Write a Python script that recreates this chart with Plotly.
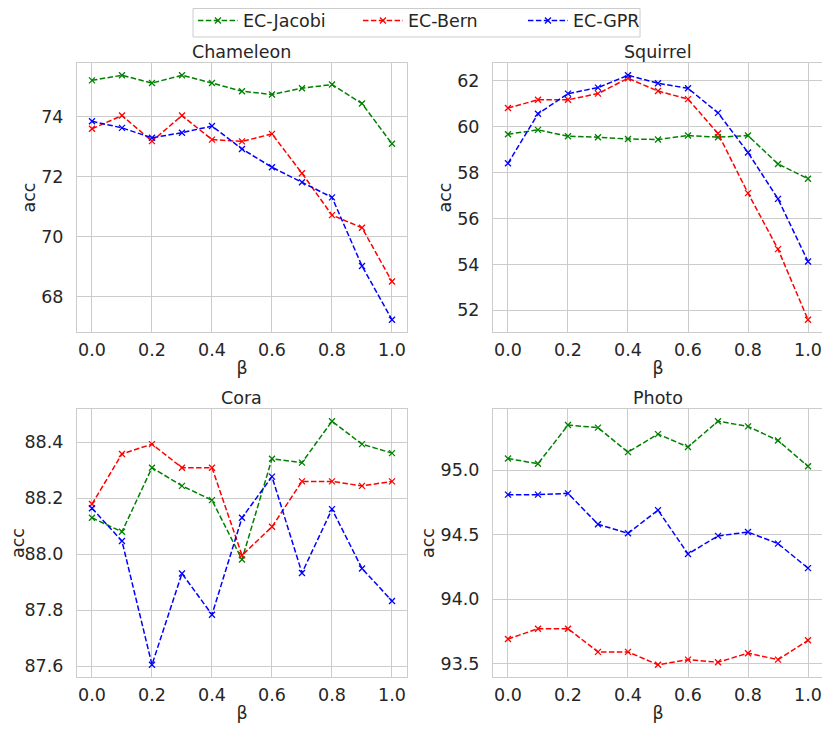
import plotly.graph_objects as go

# beta values on the x axis
beta = [0.0, 0.1, 0.2, 0.3, 0.4, 0.5, 0.6, 0.7, 0.8, 0.9, 1.0]

# accuracies per dataset
chameleon_jacobi = [75.20, 75.37, 75.11, 75.37, 75.11, 74.84, 74.73, 74.94, 75.06, 74.43, 73.09]
chameleon_bern = [73.59, 74.03, 73.18, 74.03, 73.23, 73.17, 73.42, 72.11, 70.72, 70.30, 68.51]
chameleon_gpr = [73.84, 73.62, 73.29, 73.46, 73.68, 72.92, 72.31, 71.81, 71.31, 69.03, 67.24]

squirrel_jacobi = [59.68, 59.87, 59.59, 59.55, 59.47, 59.45, 59.62, 59.55, 59.62, 58.38, 57.74]
squirrel_bern = [60.82, 61.18, 61.18, 61.45, 62.12, 61.56, 61.21, 59.71, 57.11, 54.67, 51.59]
squirrel_gpr = [58.41, 60.57, 61.45, 61.71, 62.25, 61.90, 61.68, 60.61, 58.88, 56.86, 54.13]

cora_jacobi = [88.130, 88.080, 88.309, 88.244, 88.193, 87.981, 88.341, 88.327, 88.475, 88.393, 88.361]
cora_bern = [88.179, 88.358, 88.393, 88.309, 88.309, 87.996, 88.098, 88.260, 88.260, 88.244, 88.260]
cora_gpr = [88.164, 88.047, 87.605, 87.931, 87.784, 88.130, 88.277, 87.933, 88.161, 87.949, 87.833]

photo_jacobi = [95.09, 95.05, 95.35, 95.33, 95.14, 95.28, 95.18, 95.38, 95.34, 95.23, 95.03]
photo_bern = [93.69, 93.77, 93.77, 93.59, 93.59, 93.49, 93.53, 93.51, 93.58, 93.53, 93.68]
photo_gpr = [94.81, 94.81, 94.82, 94.58, 94.51, 94.69, 94.35, 94.49, 94.52, 94.43, 94.24]

method_names = ['EC-Jacobi', 'EC-Bern', 'EC-GPR']
method_colors = ['green', 'red', 'blue']

datasets = [
    ('Chameleon', [chameleon_jacobi, chameleon_bern, chameleon_gpr], 2, '.0f'),
    ('Squirrel', [squirrel_jacobi, squirrel_bern, squirrel_gpr], 2, '.0f'),
    ('Cora', [cora_jacobi, cora_bern, cora_gpr], 0.2, '.1f'),
    ('Photo', [photo_jacobi, photo_bern, photo_gpr], 0.5, '.1f'),
]

# panel boxes in figure fractions (page body has an 8px margin, so the
# figure is 8px smaller than the window and everything is shifted)
x_domains = [[0.0839, 0.4854], [0.5900, 0.9915], [0.0839, 0.4854], [0.5900, 0.9915]]
y_domains = [[0.5525, 0.9240], [0.5525, 0.9240], [0.0760, 0.4461], [0.0760, 0.4461]]

text_color = '#262626'
grid_color = '#cccccc'
font_family = 'DejaVu Sans'
font_size = 17.5

fig = go.Figure()

for i, (title, series, step, fmt) in enumerate(datasets):
    n = '' if i == 0 else str(i + 1)
    for name, color, values in zip(method_names, method_colors, series):
        fig.add_trace(go.Scatter(
            x=beta,
            y=values,
            mode='lines+markers',
            name=name,
            legendgroup=name,
            showlegend=(i == 0),
            line=dict(color=color, width=1.5, dash='5.5px,2.4px'),
            marker=dict(symbol='x-thin', size=6, line=dict(color=color, width=1.3)),
            xaxis='x' + n,
            yaxis='y' + n,
        ))

    # matplotlib-like 5% padding around data
    all_vals = [v for s in series for v in s]
    lo, hi = min(all_vals), max(all_vals)
    pad = 0.05 * (hi - lo)

    fig.update_layout({
        'xaxis' + n: dict(
            domain=x_domains[i], anchor='y' + n, range=[-0.05, 1.05],
            dtick=0.2, tick0=0, tickformat='.1f',
            showgrid=True, gridcolor=grid_color, gridwidth=1,
            showline=True, linecolor=grid_color, mirror=True, zeroline=False,
            ticks='', ticklabelstandoff=2,
            title=dict(text='β', standoff=2, font=dict(size=font_size, color=text_color)),
            tickfont=dict(size=font_size, color=text_color),
        ),
        'yaxis' + n: dict(
            domain=y_domains[i], anchor='x' + n, range=[lo - pad, hi + pad],
            dtick=step, tickformat=fmt,
            showgrid=True, gridcolor=grid_color, gridwidth=1,
            showline=True, linecolor=grid_color, mirror=True, zeroline=False,
            ticks='', ticklabelstandoff=9,
            title=dict(text='acc', standoff=1, font=dict(size=font_size, color=text_color)),
            tickfont=dict(size=font_size, color=text_color),
        ),
    })

    # subplot title above each panel
    fig.add_annotation(
        text=title, showarrow=False,
        x=sum(x_domains[i]) / 2, y=y_domains[i][1],
        xref='paper', yref='paper', xanchor='center', yanchor='bottom', yshift=-1,
        font=dict(size=font_size, color=text_color),
    )

# legend frame drawn as a shape so it hugs the entries like matplotlib's
fig.add_shape(
    type='rect', xref='paper', yref='paper',
    x0=0.2251, x1=0.7689, y0=0.960, y1=0.9993,
    line=dict(color=grid_color, width=1), fillcolor='rgba(0,0,0,0)', layer='above',
)

fig.update_layout(
    width=822,
    height=724,
    margin=dict(l=0, r=0, t=0, b=0, autoexpand=False),
    paper_bgcolor='white',
    plot_bgcolor='white',
    font=dict(family=font_family, color=text_color),
    legend=dict(
        orientation='h', x=0.225, xanchor='left', y=1.0074, yanchor='top',
        borderwidth=0, bgcolor='rgba(0,0,0,0)',
        font=dict(size=font_size, color=text_color),
        entrywidth=110, itemwidth=40,
    ),
)

fig.write_html('out.html')
